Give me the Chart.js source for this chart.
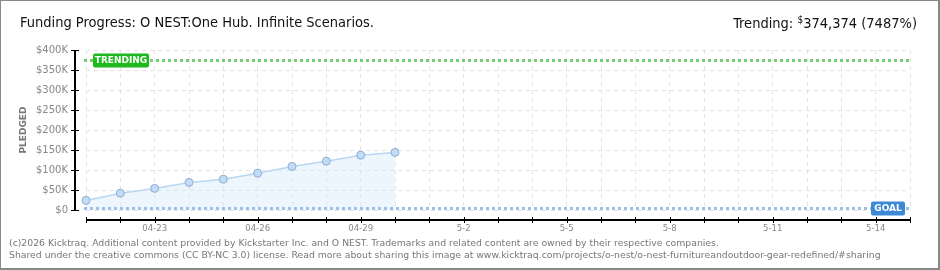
<!DOCTYPE html>
<html>
<head>
<meta charset="utf-8">
<script src="https://cdn.jsdelivr.net/npm/chart.js@4.4.1/dist/chart.umd.min.js"></script>
<style>
  html, body { margin: 0; padding: 0; background: #fff; }
  #wrap { position: relative; width: 940px; height: 270px; box-sizing: border-box;
          border-top: 1px solid #888; border-left: 1px solid #888;
          border-right: 2px solid #888; border-bottom: 2px solid #888; overflow: hidden; }
  #chart { position: absolute; left: -1px; top: -1px; }
  .hdr { position: absolute; top: 13px; font-family: "DejaVu Sans Condensed", sans-serif;
         font-size: 14.5px; color: #111; white-space: nowrap; }
  #title { left: 19px; }
  #trend { right: 21px; }
  #trend sup { font-size: 10px; vertical-align: 5px; }
  .foot { position: absolute; left: 8px; font-family: "DejaVu Sans", Verdana, sans-serif;
          font-size: 9.3px; color: #777; white-space: nowrap; }
</style>
</head>
<body>
<div id="wrap">
  <canvas id="chart" width="940" height="270"></canvas>
  <div class="hdr" id="title">Funding Progress: O NEST:One Hub. Infinite Scenarios.</div>
  <div class="hdr" id="trend">Trending: <sup>$</sup>374,374 (7487%)</div>
  <div class="foot" style="top:236px">(c)2026 Kicktraq. Additional content provided by Kickstarter Inc. and O NEST. Trademarks and related content are owned by their respective companies.</div>
  <div class="foot" style="top:248px">Shared under the creative commons (CC BY-NC 3.0) license. Read more about sharing this image at www.kicktraq.com/projects/o-nest/o-nest-furnitureandoutdoor-gear-redefined/#sharing</div>
</div>
<script>
// daily pledged totals, 04-21 .. 04-30
const DAYS = ['04-21', '04-22', '04-23', '04-24', '04-25', '04-26', '04-27', '04-28', '04-29', '04-30',
    '5-1', '5-2', '5-3', '5-4', '5-5', '5-6', '5-7', '5-8', '5-9', '5-10',
    '5-11', '5-12', '5-13', '5-14', '5-15'];
const PLEDGED = [24000, 42000, 54000, 69000, 77000, 92000, 109000, 122000, 137000, 144000];
const TRENDING = 374374;
const GOAL = 5000;
const Y_MAX = 400000;

const GREY = '#888';
const FONT_TICK = 'DejaVu Sans';

function fmtK(v) {
    return '$' + (v === 0 ? '0' : (v / 1000) + 'K');
}

function roundRect(ctx, x, y, w, h, r) {
    ctx.beginPath();
    ctx.moveTo(x + r, y);
    ctx.lineTo(x + w - r, y);
    ctx.quadraticCurveTo(x + w, y, x + w, y + r);
    ctx.lineTo(x + w, y + h - r);
    ctx.quadraticCurveTo(x + w, y + h, x + w - r, y + h);
    ctx.lineTo(x + r, y + h);
    ctx.quadraticCurveTo(x, y + h, x, y + h - r);
    ctx.lineTo(x, y + r);
    ctx.quadraticCurveTo(x, y, x + r, y);
    ctx.closePath();
}

// trending / goal markers plus the detached axis lines
const overlay = {
    id: 'overlay',
    afterDatasetsDraw(chart) {
        const { ctx, chartArea: a, scales: { x, y } } = chart;
        ctx.save();

        // dotted reference lines
        const ref = (val, color) => {
            const py = Math.round(y.getPixelForValue(val)) + 0.5;
            ctx.strokeStyle = color;
            ctx.lineWidth = 3;
            ctx.setLineDash([3, 3]);
            ctx.beginPath();
            ctx.moveTo(a.left - 2, py);
            ctx.lineTo(a.right, py);
            ctx.stroke();
            ctx.setLineDash([]);
            return py;
        };
        const ty = ref(TRENDING, '#74cc74');
        const gy = ref(GOAL, '#9cc0e8');

        ctx.font = 'bold 9px ' + FONT_TICK;
        ctx.textBaseline = 'middle';
        ctx.textAlign = 'center';
        // TRENDING tag
        ctx.fillStyle = '#1db91d';
        roundRect(ctx, a.left + 7, ty - 7, 56, 14, 2);
        ctx.fill();
        ctx.fillStyle = '#fff';
        ctx.fillText('TRENDING', a.left + 35, ty + 0.5);
        // GOAL tag
        ctx.fillStyle = '#3d89d8';
        roundRect(ctx, a.right - 39, gy - 7, 34, 14, 2);
        ctx.fill();
        ctx.fillStyle = '#fff';
        ctx.fillText('GOAL', a.right - 22, gy + 0.5);

        // y axis, 11px left of the plot
        const ax = a.left - 11;
        ctx.strokeStyle = '#000';
        ctx.lineWidth = 2;
        ctx.beginPath();
        ctx.moveTo(ax, y.getPixelForValue(Y_MAX));
        ctx.lineTo(ax, y.getPixelForValue(0));
        ctx.stroke();
        ctx.lineWidth = 1;
        y.ticks.forEach((t, i) => {
            const py = Math.round(y.getPixelForTick(i)) + 0.5;
            const major = t.value % 50000 === 0;
            ctx.strokeStyle = major ? '#000' : '#e00';
            ctx.beginPath();
            ctx.moveTo(ax - 4, py);
            ctx.lineTo(major ? ax + 4 : ax, py);
            ctx.stroke();
        });

        // x axis, 10px below the plot
        const ay = a.bottom + 10;
        ctx.strokeStyle = '#000';
        ctx.lineWidth = 2;
        ctx.beginPath();
        ctx.moveTo(a.left, ay);
        ctx.lineTo(a.right, ay);
        ctx.stroke();
        ctx.lineWidth = 1;
        DAYS.forEach((d, i) => {
            const px = Math.round(x.getPixelForValue(i)) + 0.5;
            ctx.beginPath();
            ctx.moveTo(px, ay - 3);
            ctx.lineTo(px, ay + 3);
            ctx.stroke();
        });
        ctx.restore();
    }
};

new Chart(document.getElementById('chart').getContext('2d'), {
    type: 'line',
    data: {
        labels: DAYS,
        datasets: [{
            data: PLEDGED,
            borderColor: '#b9d6f3',
            backgroundColor: 'rgba(214,232,250,.45)',
            borderWidth: 1.5,
            fill: 'origin',
            tension: 0,
            pointRadius: 4,
            pointBackgroundColor: '#c2dbf6',
            pointBorderColor: '#8eadd3',
            pointBorderWidth: 1
        }]
    },
    plugins: [overlay],
    options: {
        responsive: false,
        animation: false,
        events: [],
        layout: { padding: { left: 0, top: 50, right: 30, bottom: 30 } },
        plugins: { legend: { display: false }, tooltip: { enabled: false } },
        scales: {
            x: {
                type: 'category',
                offset: false,
                afterFit: s => { s.height = 30; },
                border: { display: false, dash: [4, 4] },
                grid: { color: '#e4e4e4', tickLength: 0, drawTicks: false },
                ticks: {
                    autoSkip: false,
                    maxRotation: 0,
                    padding: 13,
                    color: GREY,
                    font: { family: 'DejaVu Sans Condensed', size: 9.5 },
                    callback: (v, i) => (i - 2) % 3 === 0 ? DAYS[i] : ''
                }
            },
            y: {
                min: 0,
                max: Y_MAX,
                afterFit: s => { s.width = 86; },
                border: { display: false, dash: [4, 4] },
                grid: {
                    drawTicks: false,
                    tickLength: 0,
                    color: c => c.tick && c.tick.value % 50000 === 0 ? '#e4e4e4' : 'rgba(0,0,0,0)'
                },
                title: { display: true, text: 'PLEDGED', color: '#777', font: { family: FONT_TICK, size: 9, weight: 'bold' }, padding: { top: 18, bottom: 0 } },
                ticks: {
                    stepSize: 25000,
                    padding: 18,
                    color: GREY,
                    font: { family: FONT_TICK, size: 10 },
                    callback: v => v % 50000 === 0 ? fmtK(v) : ''
                }
            }
        }
    }
});
</script>
</body>
</html>
